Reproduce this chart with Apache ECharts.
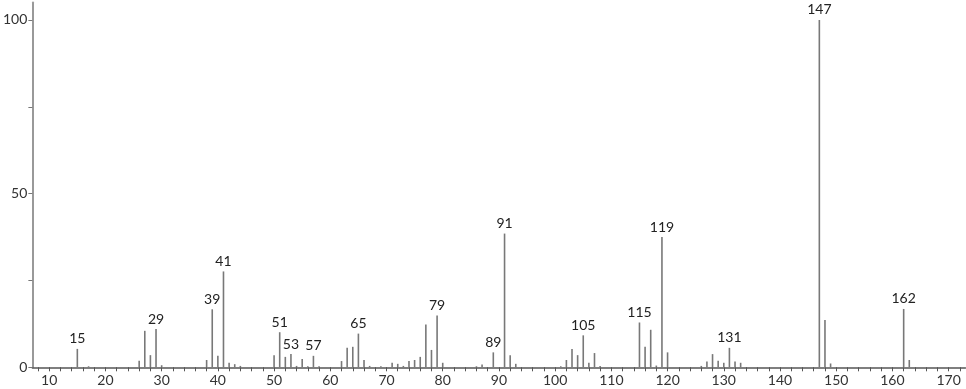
<!DOCTYPE html>
<html>
<head>
<meta charset="utf-8">
<script src="https://cdn.jsdelivr.net/npm/echarts@6/dist/echarts.min.js"></script>
<style>html,body{margin:0;padding:0;background:#fff}#c{width:966px;height:389px}</style>
</head>
<body>
<div id="c"></div>
<script>
var mz = [15,17,26,27,28,29,30,38,39,40,41,42,43,44,50,51,52,53,54,55,56,57,58,62,63,64,65,66,67,69,71,72,73,74,75,76,77,78,79,80,86,87,89,91,92,93,101,102,103,104,105,106,107,108,115,116,117,118,119,120,126,127,128,129,130,131,132,133,147,148,149,162,163];
var intensity = [5.3,0.3,1.9,10.5,3.5,11.0,0.6,2.1,16.7,3.3,27.6,1.3,0.9,0.4,3.5,10.1,3.0,3.8,0.4,2.4,0.3,3.3,0.3,1.8,5.6,5.9,9.7,2.1,0.4,0.3,1.3,1.0,0.4,1.8,2.1,3.0,12.3,5.0,14.9,1.3,0.3,0.8,4.3,38.5,3.5,1.0,0.3,2.1,5.3,3.5,9.2,1.3,4.1,0.4,12.9,5.9,10.8,0.5,37.5,4.3,0.4,1.7,3.8,1.9,1.3,5.6,1.7,1.3,100,13.6,1.1,16.8,2.1];
var labeledPeaks = [15,29,39,41,51,53,57,65,79,89,91,105,115,119,131,147,162];
var xLabelValues = [10,20,30,40,50,60,70,80,90,100,110,120,130,140,150,160,170];
var xTickValues = [];
for (var t = 8; t <= 172; t += 2) xTickValues.push(t);
var yShownLabels = [0,50,100];

var FONT = 'Lato, "DejaVu Sans", sans-serif';
var data = mz.map(function(m, i){
  var item = {value: [m, intensity[i]]};
  if (labeledPeaks.indexOf(m) >= 0) {
    item.label = {show: true, position: 'top', distance: 3, formatter: String(m), color: '#222', fontSize: 14, fontFamily: FONT};
  }
  return item;
});

var chart = echarts.init(document.getElementById('c'), null, {renderer: 'canvas'});
chart.setOption({
  animation: false,
  backgroundColor: '#fff',
  grid: {left: 29, right: 0.5, top: 2.6, bottom: 21.7, containLabel: false},
  xAxis: {
    type: 'value', min: 7, max: 173,
    splitLine: {show: false},
    axisLine: {show: true, onZero: false, lineStyle: {color: '#555', width: 1.5}},
    axisTick: {show: true, customValues: xTickValues, length: 4, lineStyle: {color: '#555', width: 1}},
    axisLabel: {customValues: xLabelValues, color: '#333', fontSize: 14, fontFamily: FONT, margin: 6}
  },
  yAxis: {
    type: 'value', min: 0, max: 105, interval: 25,
    splitLine: {show: false},
    axisLine: {show: true, lineStyle: {color: '#999', width: 2}},
    axisTick: {show: true, length: 4, lineStyle: {color: '#777', width: 1}},
    axisLabel: {
      color: '#333', fontSize: 14, fontFamily: FONT, margin: 5,
      formatter: function(v){ return yShownLabels.indexOf(v) >= 0 ? String(v) : ''; },
      showMaxLabel: false
    }
  },
  series: [{
    type: 'bar',
    barWidth: 1.6,
    itemStyle: {color: '#787878'},
    data: data
  }]
});
</script>
</body>
</html>
